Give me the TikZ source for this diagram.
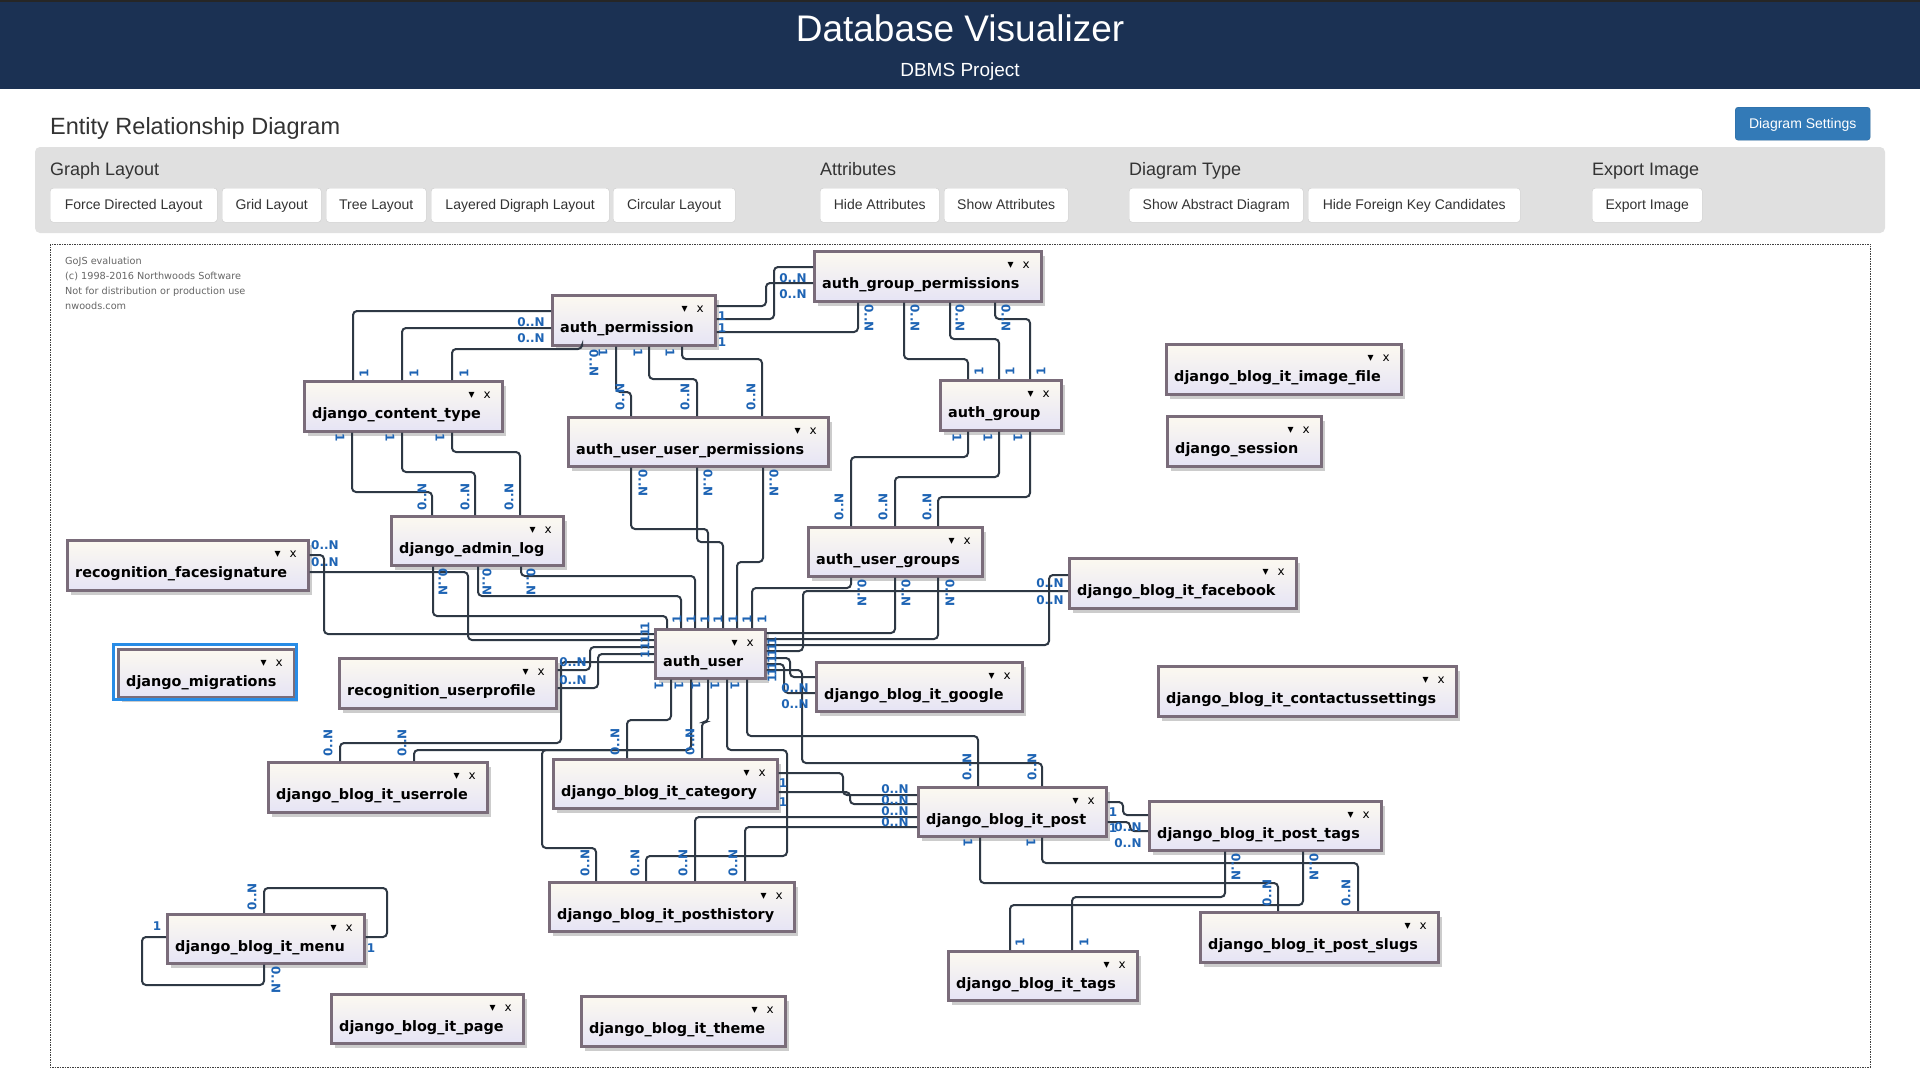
\documentclass[tikz,border=0pt]{standalone}
\usepackage{fontspec}
\setmainfont{Liberation Sans}
\newfontfamily\dejavu{DejaVu Sans}
\usetikzlibrary{shadows}
\definecolor{navy}{RGB}{27,49,83}
\definecolor{panelgray}{RGB}{224,224,224}
\definecolor{btnline}{RGB}{204,204,204}
\definecolor{setblue}{RGB}{51,122,183}
\definecolor{linkc}{RGB}{46,56,68}
\definecolor{cardblue}{RGB}{30,100,180}
\definecolor{tblline}{RGB}{122,108,122}
\definecolor{tbltop}{RGB}{252,249,240}
\definecolor{tblbot}{RGB}{230,228,245}
\definecolor{selblue}{RGB}{40,140,230}
\newcommand{\tbl}[6]{%
  \node[tblbox, anchor=north west, minimum width=#4-#2, minimum height=#5-#3] (#1) at (#2,#3) {};
  \node[tbltext, anchor=base west] (#1-t) at (#2+9,#3+38) {#6};
  \node[tblicon, anchor=base east] (#1-i) at (#4-10,#3+18) {▾\hspace{9pt}x};
}
\newcommand{\btn}[4]{\node[btn, anchor=north west, minimum width=#3-#2] (#1) at (#2,188) {#4};}

\begin{document}
\begin{tikzpicture}[x=1pt,y=-1pt,
  tblbox/.style={draw=tblline, line width=2.5pt, top color=tbltop, bottom color=tblbot, inner sep=0pt,
    drop shadow={shadow xshift=4pt, shadow yshift=-5pt, opacity=.2, fill=black}},
  tbltext/.style={inner sep=0pt, font=\dejavu\bfseries\fontsize{14.4}{16}\selectfont},
  tblicon/.style={inner sep=0pt, font=\dejavu\fontsize{12}{12}\selectfont},
  btn/.style={draw=btnline, fill=white, rounded corners=3pt, minimum height=34, inner sep=0pt,
    text=black!80, font=\fontsize{14}{16}\selectfont, text depth=1pt},
  head/.style={anchor=base west, inner sep=0pt, text=black!80, font=\fontsize{18}{20}\selectfont},
  wmark/.style={anchor=base west, inner sep=0pt, text=black!60, font=\dejavu\fontsize{9.7}{11}\selectfont},
  rel/.style={draw=linkc, line width=2pt, rounded corners=4pt},
  card/.style={inner sep=0pt, text=cardblue, font=\dejavu\bfseries\fontsize{12}{12}\selectfont}]
	%\draw[step=100,gray,very thin] (0,0) grid (1920,1080);
	\fill[white] (0,0) rectangle (1920,1080);
	\useasboundingbox (0,0) rectangle (1920,1080);
	\fill[navy] (0,0) rectangle (1920,89);
	\fill[black!85] (0,0) rectangle (1920,1.5);
	\node[anchor=base, text=white, font=\fontsize{37}{40}\selectfont] (title) at (960,41) {Database Visualizer};
	\node[anchor=base, text=white, font=\fontsize{19}{22}\selectfont] (subtitle) at (960,76) {DBMS Project};
	\node[anchor=base west, inner sep=0pt, text=black!80, font=\fontsize{23.5}{26}\selectfont] (erd) at (50,134) {Entity Relationship Diagram};
	\node[fill=setblue, draw=setblue!85!black, rounded corners=3pt, minimum width=135, minimum height=33, inner sep=0pt,
	  text=white, font=\fontsize{14}{16}\selectfont, text depth=1pt, anchor=north west] (bsettings) at (1735,107) {Diagram Settings};
	% toolbar
	\fill[panelgray, rounded corners=5pt] (35,147) rectangle (1885,233);
	\node[head] (hgraph) at (50,175) {Graph Layout};
	\node[head] (hattr) at (820,175) {Attributes};
	\node[head] (htype) at (1129,175) {Diagram Type};
	\node[head] (hexp) at (1592,175) {Export Image};
	\btn{bforce}{50}{217}{Force Directed Layout}
	\btn{bgrid}{222}{321}{Grid Layout}
	\btn{btree}{326}{426}{Tree Layout}
	\btn{blayer}{431}{609}{Layered Digraph Layout}
	\btn{bcirc}{613}{735}{Circular Layout}
	\btn{bhide}{820}{939}{Hide Attributes}
	\btn{bshow}{944}{1068}{Show Attributes}
	\btn{babs}{1129}{1303}{Show Abstract Diagram}
	\btn{bfk}{1308}{1520}{Hide Foreign Key Candidates}
	\btn{bexp}{1592}{1702}{Export Image}
	% canvas
	\draw[line width=1pt, draw=black!75, dash pattern=on 1.5pt off 1pt] (50,244) rectangle (1870,1067);
	\foreach \t [count=\i] in {GoJS evaluation, {(c) 1998-2016 Northwoods Software}, Not for distribution or production use, nwoods.com}
		\node[wmark] (wm\i) at (65,249+15*\i) {\t};
	% tables
	\tbl{agp}{813}{250}{1040}{300}{auth\_group\_permissions}
	\tbl{aperm}{551}{294}{714}{344}{auth\_permission}
	\tbl{dct}{303}{380}{501}{430}{django\_content\_type}
	\tbl{auup}{567}{416}{827}{465}{auth\_user\_user\_permissions}
	\tbl{agroup}{939}{379}{1060}{429}{auth\_group}
	\tbl{imgf}{1165}{343}{1400}{393}{django\_blog\_it\_image\_file}
	\tbl{sess}{1166}{415}{1320}{465}{django\_session}
	\tbl{aug}{807}{526}{981}{575}{auth\_user\_groups}
	\tbl{fb}{1068}{557}{1295}{607}{django\_blog\_it\_facebook}
	\tbl{alog}{390}{515}{562}{564}{django\_admin\_log}
	\tbl{facesig}{66}{539}{307}{589}{recognition\_facesignature}
	\tbl{auser}{654}{628}{764}{677}{auth\_user}
	\tbl{migr}{117}{648}{293}{696}{django\_migrations}
	\draw[selblue, line width=3pt] (113.5,644.5) rectangle (296.5,699.5);
	\tbl{uprof}{338}{657}{555}{707}{recognition\_userprofile}
	\tbl{google}{815}{661}{1021}{710}{django\_blog\_it\_google}
	\tbl{contact}{1157}{665}{1455}{715}{django\_blog\_it\_contactussettings}
	\tbl{urole}{267}{761}{486}{811}{django\_blog\_it\_userrole}
	\tbl{cat}{552}{758}{776}{807}{django\_blog\_it\_category}
	\tbl{post}{917}{786}{1105}{835}{django\_blog\_it\_post}
	\tbl{ptags}{1148}{800}{1380}{849}{django\_blog\_it\_post\_tags}
	\tbl{phist}{548}{881}{793}{930}{django\_blog\_it\_posthistory}
	\tbl{menu}{166}{913}{363}{962}{django\_blog\_it\_menu}
	\tbl{page}{330}{993}{522}{1042}{django\_blog\_it\_page}
	\tbl{theme}{580}{995}{784}{1045}{django\_blog\_it\_theme}
	\tbl{tags}{947}{950}{1136}{999}{django\_blog\_it\_tags}
	\tbl{slugs}{1199}{911}{1437}{961}{django\_blog\_it\_post\_slugs}
	% links
	\draw[rel] (353,0 |- dct.north) |- (aperm.west |- 0,311);
	\draw[rel] (402,0 |- dct.north) |- (aperm.west |- 0,328);
	\draw[rel] (452,0 |- dct.north) |- (582,349) -- (582,0 |- aperm.south);
	\foreach \a/\b/\c in {352/432/492, 402/475/472, 452/520/452}
		\draw[rel] (\a,0 |- dct.south) |- (\b,\c) -- (\b,0 |- alog.north);
	\foreach \a/\b/\c in {616/631/392, 649/697/379, 682/762/359}
		\draw[rel] (\a,0 |- aperm.south) |- (\b,\c) -- (\b,0 |- auup.north);
	\draw[rel] (aperm.east |- 0,306) -| (766,283) -- (agp.west |- 0,283);
	\draw[rel] (aperm.east |- 0,319) -| (774,267) -- (agp.west |- 0,267);
	\draw[rel] (aperm.east |- 0,332) -| (858,0 |- agp.south);
	\foreach \a/\b/\c in {904/968/359, 950/999/339, 995/1030/319}
		\draw[rel] (\a,0 |- agp.south) |- (\b,\c) -- (\b,0 |- agroup.north);
	\foreach \a/\b/\c in {968/851/457, 999/895/477, 1030/938/497}
		\draw[rel] (\a,0 |- agroup.south) |- (\b,\c) -- (\b,0 |- aug.north);
	\foreach \a/\b/\c in {631/708/529, 697/723/542, 763/737/562}
		\draw[rel] (\a,0 |- auup.south) |- (\b,\c) -- (\b,0 |- auser.north);
	\foreach \a/\b/\c in {433/667/616, 478/681/596, 521/695/576}
		\draw[rel] (\a,0 |- alog.south) |- (\b,\c) -- (\b,0 |- auser.north);
	\draw[rel] (851,0 |- aug.south) |- (752,588) -- (752,0 |- auser.north);
	\draw[rel] (895,0 |- aug.south) |- (auser.east |- 0,633);
	\draw[rel] (938,0 |- aug.south) |- (auser.east |- 0,639);
	\draw[rel] (fb.west |- 0,575) -| (1049,645) -- (auser.east |- 0,645);
	\draw[rel] (fb.west |- 0,591) -| (803,651) -- (auser.east |- 0,651);
	\draw[rel] (auser.east |- 0,658) -| (790,677) -- (google.west |- 0,677);
	\draw[rel] (auser.east |- 0,664) -| (784,693) -- (google.west |- 0,693);
	\draw[rel] (auser.east |- 0,670) -| (802,763) -| (1042,0 |- post.north);
	\draw[rel] (747,0 |- auser.south) |- (978,736) -- (978,0 |- post.north);
	\draw[rel] (671,0 |- auser.south) |- (627,720) -- (627,0 |- cat.north);
	\draw[rel] (708,0 |- auser.south) |- (702,722) -- (702,0 |- cat.north);
	\draw[rel] (691,0 |- auser.south) |- (414,750) -- (414,0 |- urole.north);
	\draw[rel] (596,0 |- phist.north) |- (542,848) |- (691,750) -- (691,0 |- auser.south);
	\draw[rel] (646,0 |- phist.north) |- (787,856) |- (727,750) -- (727,0 |- auser.south);
	\draw[rel] (post.west |- 0,817) -| (695,0 |- phist.north);
	\draw[rel] (post.west |- 0,827) -| (745,0 |- phist.north);
	\draw[rel] (cat.east |- 0,773) -| (843,795) -- (post.west |- 0,795);
	\draw[rel] (cat.east |- 0,792) -| (850,804) -- (post.west |- 0,804);
	\draw[rel] (340,0 |- urole.north) |- (561,743) |- (auser.west |- 0,662);
	\draw[rel] (uprof.east |- 0,670) -| (590,647) -- (auser.west |- 0,647);
	\draw[rel] (uprof.east |- 0,688) -| (598,654) -- (auser.west |- 0,654);
	\draw[rel] (facesig.east |- 0,555) -| (324,634) -- (auser.west |- 0,634);
	\draw[rel] (facesig.east |- 0,572) -| (468,640) -- (auser.west |- 0,640);
	\draw[rel] (post.east |- 0,802) -| (1123,815) -- (ptags.west |- 0,815);
	\draw[rel] (post.east |- 0,822) -| (1130,831) -- (ptags.west |- 0,831);
	\draw[rel] (980,0 |- post.south) |- (1278,883) -- (1278,0 |- slugs.north);
	\draw[rel] (1042,0 |- post.south) |- (1358,863) -- (1358,0 |- slugs.north);
	\draw[rel] (1225,0 |- ptags.south) |- (1072,897) -- (1072,0 |- tags.north);
	\draw[rel] (1303,0 |- ptags.south) |- (1010,905) -- (1010,0 |- tags.north);
	\draw[rel] (264,0 |- menu.north) |- (387,888) |- (menu.east |- 0,937);
	\draw[rel] (menu.west |- 0,937) -| (142,985) -| (264,0 |- menu.south);
	% cardinalities
	\foreach \x/\y [count=\i] in {531/322, 531/338, 793/278, 793/294, 325/545, 325/562, 573/662, 573/680,
	  795/688, 795/704, 1050/583, 1050/600, 895/789, 895/800, 895/811, 895/822, 1128/827, 1128/843}
		\node[card] (mh\i) at (\x,\y) {0..N};
	\foreach \x/\y [count=\i] in {722/316, 722/328, 722/342, 783/783, 783/802, 1113/812, 1113/828, 157/926, 371/948}
		\node[card] (oh\i) at (\x,\y) {1};
	\foreach \x/\y [count=\i] in {422/497, 465/497, 509/497, 620/397, 685/397, 751/397, 839/507, 883/507, 927/507,
	  615/742, 690/742, 328/743, 402/743, 585/863, 635/863, 683/863, 733/863, 967/767, 1032/767, 1267/893, 1346/893, 252/897}
		\node[card, rotate=90] (mt\i) at (\x,\y) {0..N};
	\foreach \x/\y [count=\i] in {364/373, 414/373, 464/373, 979/371, 1010/371, 1041/371, 1020/942, 1084/942,
	  677/619, 691/619, 705/619, 718/619, 733/619, 747/619, 762/619, 645/626, 645/632, 645/639, 645/646, 645/654,
	  772/641, 772/647, 772/653, 772/659, 772/666, 772/672, 772/678}
		\node[card, rotate=90] (ot\i) at (\x,\y) {1};
	\foreach \x/\y [count=\i] in {594/363, 869/318, 915/318, 960/318, 1006/318, 643/483, 708/483, 774/483,
	  443/582, 487/582, 531/582, 862/593, 906/593, 950/593, 1236/867, 1314/867, 276/980}
		\node[card, rotate=-90] (mb\i) at (\x,\y) {0..N};
	\foreach \x/\y [count=\i] in {340/438, 390/438, 440/438, 603/353, 638/353, 670/353, 957/438, 988/438, 1018/438,
	  659/686, 679/686, 696/686, 715/686, 735/686, 968/843, 1031/843}
		\node[card, rotate=-90] (ob\i) at (\x,\y) {1};
\end{tikzpicture}
\end{document}
